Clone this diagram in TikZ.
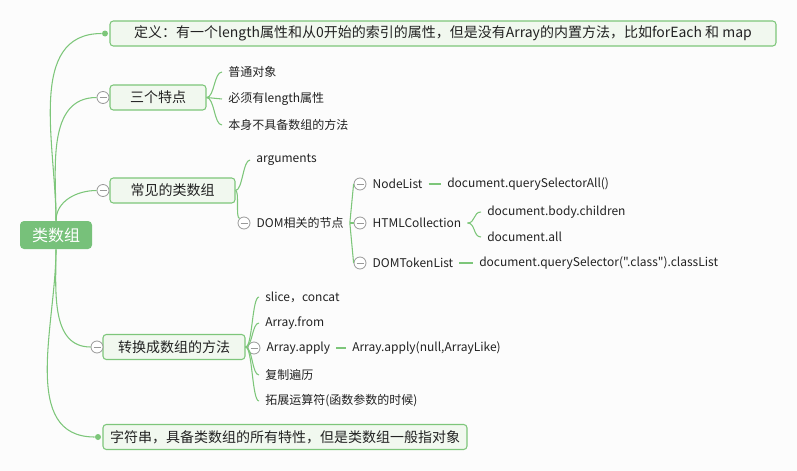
\documentclass[tikz,border=0pt]{standalone}
\usepackage{fontspec}
\setmainfont{Noto Sans CJK SC}[Ligatures=TeXOff]
\usetikzlibrary{calc}
\definecolor{mapgreen}{HTML}{7DC67A}
\definecolor{boxfill}{HTML}{F1F8EF}
\definecolor{rootfill}{HTML}{77C17A}
\definecolor{bggray}{HTML}{FCFCFC}
\definecolor{foldgray}{HTML}{999999}
\definecolor{inkgray}{HTML}{222222}

\begin{document}
\begin{tikzpicture}[x=0.75pt, y=-0.75pt, text=inkgray,
  link/.style={draw=mapgreen, line width=0.8pt},
  brace/.style={to path={.. controls ($(\tikztostart)+(#1,0)$) and ($(\tikztotarget)+(-#1,0)$) .. (\tikztotarget)}},
  rootbox/.style={fill=rootfill, rounded corners=3pt, text=white, minimum width=54pt, minimum height=21pt, font=\fontsize{12}{14}\selectfont},
  topicbox/.style={draw=mapgreen, fill=boxfill, line width=0.8pt, rounded corners=2.5pt, minimum height=18.75pt, inner xsep=0pt, font=\fontsize{10.5}{12}\selectfont},
  leaf/.style={anchor=west, inner xsep=4.5pt, inner ysep=1pt, font=\fontsize{9}{11}\selectfont},
  fold/.style={circle, draw=foldgray, fill=white, line width=0.6pt, minimum size=9pt, inner sep=0pt,
    path picture={\draw[foldgray, line width=0.6pt] ($(path picture bounding box.west)+(2.5,0)$) -- ($(path picture bounding box.east)+(-2.5,0)$);}},
  dot/.style={circle, fill=mapgreen, minimum size=4.5pt, inner sep=0pt}]

  \useasboundingbox[fill=bggray] (0,0) rectangle (797,471);

  % root and main topics
  \node[rootbox] (root) at (56,235) {类数组};
  \node[topicbox, minimum width=499.5pt] (defn) at (443,33.5) {定义：有一个length属性和从0开始的索引的属性，但是没有Array的内置方法，比如forEach 和 map};
  \node[dot] (defndot) at (105,33.5) {};
  \node[topicbox, minimum width=72pt] (traits) at (158,97.5) {三个特点};
  \node[fold] (traitsfold) at (103,97.5) {};
  \node[topicbox, minimum width=93.75pt] (common) at (172.5,190.5) {常见的类数组};
  \node[fold] (commonfold) at (103,190.5) {};
  \node[topicbox, minimum width=106.5pt] (convert) at (174,347) {转换成数组的方法};
  \node[fold] (convertfold) at (97,347) {};
  \node[topicbox, minimum width=273pt] (strings) at (285,437) {字符串，具备类数组的所有特性，但是类数组一般指对象};
  \node[dot] (stringsdot) at (98,437) {};

  \draw[link] (root.north) to[out=90, in=180] (defndot);
  \draw[link] (root.north) to[out=90, in=180] (traitsfold.west);
  \draw[link] (root.north) to[out=90, in=180] (commonfold.west);
  \draw[link] (root.south) to[out=-90, in=180] (convertfold.west);
  \draw[link] (root.south) to[out=-90, in=180] (stringsdot);

  % 三个特点
  \node[leaf] (plain) at (222,72) {普通对象};
  \node[leaf] (haslen) at (222,99) {必须有length属性};
  \node[leaf] (nomethod) at (222,125) {本身不具备数组的方法};
  \foreach \n in {plain, haslen, nomethod}
    \draw[link] (traits.east) to[brace=8] (\n.west);

  % 常见的类数组
  \node[leaf] (args) at (250,160) {arguments};
  \node[fold] (domfold) at (244,223) {};
  \node[leaf] (dom) at (domfold.east) {DOM相关的节点};
  \draw[link] (common.east) to[brace=7] (args.west);
  \draw[link] (common.east) to[brace=4] (domfold.north west);

  \node[fold] (nlfold) at (360,184) {};
  \node[leaf] (nodelist) at (nlfold.east) {NodeList};
  \node[fold] (hcfold) at (360,223) {};
  \node[leaf] (htmlcoll) at (hcfold.east) {HTMLCollection};
  \node[fold] (dtfold) at (360,263) {};
  \node[leaf] (tokenlist) at (dtfold.east) {DOMTokenList};
  \foreach \n in {nlfold, hcfold, dtfold}
    \draw[link] (dom.east) -- (\n.west);

  \node[leaf] (qsall) at (441,184) {document.querySelectorAll()};
  \draw[link] (nodelist.east) -- (qsall.west);
  \node[leaf] (children) at (481,212) {document.body.children};
  \node[leaf] (docall) at (481,237) {document.all};
  \draw[link] (htmlcoll.east) to[brace=8] (children.west);
  \draw[link] (htmlcoll.east) to[brace=8] (docall.west);
  \node[leaf] (classlist) at (473,263) {document.querySelector(".class").classList};
  \draw[link] (tokenlist.east) -- (classlist.west);

  % 转换成数组的方法
  \node[leaf] (slice) at (259,297) {slice，concat};
  \node[leaf] (from) at (259,323) {Array.from};
  \node[fold] (applyfold) at (254,348) {};
  \node[leaf] (apply) at (applyfold.east) {Array.apply};
  \node[leaf] (copy) at (259,375) {复制遍历};
  \node[leaf] (spread) at (259,401) {拓展运算符(函数参数的时候)};
  \foreach \n in {slice, from, copy, spread}
    \draw[link] (convert.east) to[brace=7] (\n.west);
  \draw[link] (convert.east) -- (applyfold.west);
  \node[leaf] (applylike) at (346,348) {Array.apply(null,ArrayLike)};
  \draw[link] (apply.east) -- (applylike.west);
\end{tikzpicture}
\end{document}
